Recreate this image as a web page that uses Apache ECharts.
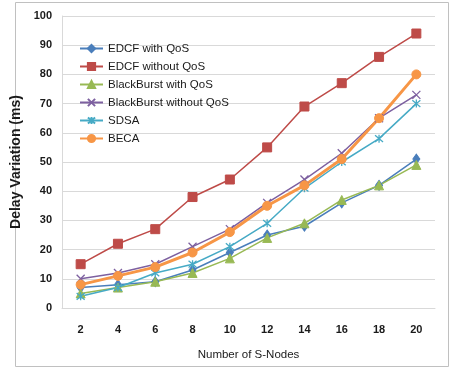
<!DOCTYPE html>
<html>
<head>
<meta charset="utf-8">
<script src="https://cdn.jsdelivr.net/npm/echarts@6/dist/echarts.min.js"></script>
<style>
  html, body { margin: 0; padding: 0; background: #fff; }
  #chart { width: 464px; height: 370px; }
</style>
</head>
<body>
<div id="chart"></div>
<script>
// Number of S-Nodes on the x axis
const nodes = ['2', '4', '6', '8', '10', '12', '14', '16', '18', '20'];
const yTicks = [0, 10, 20, 30, 40, 50, 60, 70, 80, 90, 100];

// Delay variation (ms) per scheme
const edcfQos        = [7, 8, 9, 13, 19, 25, 28, 36, 42, 51];
const edcfNoQos      = [15, 22, 27, 38, 44, 55, 69, 77, 86, 94];
const blackBurstQos  = [5, 7, 9, 12, 17, 24, 29, 37, 42, 49];
const blackBurstNoQos= [10, 12, 15, 21, 27, 36, 44, 53, 65, 73];
const sdsa           = [4, 7, 12, 15, 21, 29, 41, 50, 58, 70];
const beca           = [8, 11, 14, 19, 26, 35, 42, 51, 65, 80];

const sans = '"Liberation Sans", Arial, sans-serif';

function mk(name, data, color, symbol, size, width, extra) {
  return Object.assign({
    name: name,
    type: 'line',
    data: data,
    symbol: symbol,
    symbolSize: size,
    showSymbol: true,
    color: color,
    lineStyle: { color: color, width: width },
    itemStyle: { color: color, borderColor: color, borderWidth: 1 },
    emphasis: { disabled: true },
    animation: false
  }, extra || {});
}

const chart = echarts.init(document.getElementById('chart'), null, { renderer: 'canvas' });
chart.setOption({
  backgroundColor: '#ffffff',
  animation: false,
  graphic: [{
    type: 'rect',
    shape: { x: 15.5, y: 2.5, width: 433, height: 364 },
    style: { fill: 'none', stroke: '#c0c0c0', lineWidth: 1 },
    silent: true,
    z: -1
  }],
  grid: { left: 62, right: 29, top: 16, bottom: 62 },
  legend: {
    orient: 'vertical',
    left: 79,
    top: 42,
    padding: 0,
    itemWidth: 23,
    itemHeight: 9,
    itemGap: 5,
    textStyle: { fontFamily: sans, fontSize: 11.5, color: '#1a1a1a', lineHeight: 13 },
    data: ['EDCF with QoS', 'EDCF without QoS', 'BlackBurst with QoS', 'BlackBurst without QoS', 'SDSA', 'BECA']
  },
  xAxis: {
    type: 'category',
    data: nodes,
    boundaryGap: true,
    name: 'Number of S-Nodes',
    nameLocation: 'middle',
    nameGap: 41,
    nameTextStyle: { fontFamily: sans, fontSize: 11.5, color: '#1a1a1a' },
    axisLine: { show: true, lineStyle: { color: '#d9d9d9' } },
    axisTick: { show: false },
    axisLabel: { fontFamily: sans, fontWeight: 'bold', fontSize: 11, color: '#1a1a1a', margin: 16 }
  },
  yAxis: {
    type: 'value',
    min: yTicks[0],
    max: yTicks[yTicks.length - 1],
    interval: 10,
    name: 'Delay Variation (ms)',
    nameLocation: 'middle',
    nameGap: 37,
    nameTextStyle: { fontFamily: sans, fontWeight: 'bold', fontSize: 14, color: '#1a1a1a' },
    axisLine: { show: true, lineStyle: { color: '#d9d9d9' } },
    axisTick: { show: false },
    splitLine: { lineStyle: { color: '#d9d9d9', width: 1 } },
    axisLabel: { fontFamily: sans, fontWeight: 'bold', fontSize: 11, color: '#1a1a1a', margin: 10 }
  },
  series: [
    mk('EDCF with QoS', edcfQos, '#4a7ebb', 'diamond', [7, 10], 1.5),
    mk('EDCF without QoS', edcfNoQos, '#be4b48', 'rect', 9, 1.5),
    mk('BlackBurst with QoS', blackBurstQos, '#98b954', 'triangle', 9, 1.5),
    mk('BlackBurst without QoS', blackBurstNoQos, '#7d60a0', 'path://M0,0L10,10M10,0L0,10', 8, 1.5,
       { itemStyle: { color: '#7d60a0', borderColor: '#7d60a0', borderWidth: 1.3 } }),
    mk('SDSA', sdsa, '#46aac5', 'path://M0,0L10,10M10,0L0,10M5,-1L5,11', 8, 1.5,
       { itemStyle: { color: '#46aac5', borderColor: '#46aac5', borderWidth: 1.3 } }),
    mk('BECA', beca, '#f79646', 'circle', 9, 3)
  ]
});
</script>
</body>
</html>
